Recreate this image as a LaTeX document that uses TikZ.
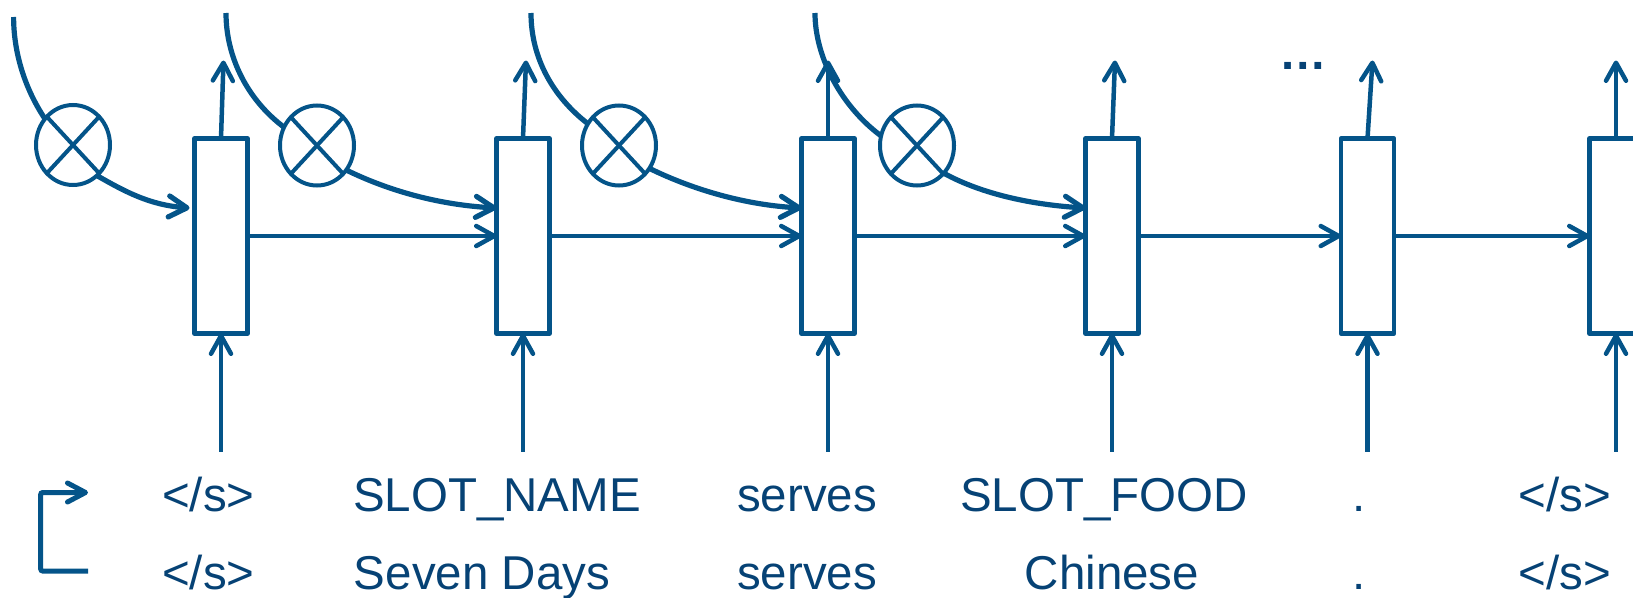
\documentclass[tikz,border=0pt]{standalone}
\usepackage{fontspec}
\setmainfont{Liberation Sans}
\usetikzlibrary{arrows.meta,calc,shapes.geometric}
\definecolor{lnc}{RGB}{4,84,137}
\definecolor{txc}{RGB}{6,66,117}
\begin{document}
\begin{tikzpicture}[x=1pt,y=-1pt,
  cell/.style={draw=lnc,line width=4.5pt,rectangle,minimum width=53pt,minimum height=195pt,inner sep=0pt,outer sep=0pt,line join=round},
  mult/.style={draw=lnc,line width=4pt,ellipse,minimum width=74pt,minimum height=80pt,inner sep=0pt,outer sep=0pt},
  link/.style={draw=lnc,line width=4.5pt,-{Straight Barb[length=18pt,width=20pt,round]}},
  flow/.style={draw=lnc,line width=5.2pt,-{Straight Barb[length=18pt,width=21pt,round]}},
  feed/.style={draw=lnc,line width=5.2pt},
  crossl/.style={draw=lnc,line width=4pt},
  word/.style={text=txc,font=\fontsize{47.5}{57}\selectfont,anchor=base,inner sep=0pt}]
\useasboundingbox (0,0) rectangle (1633,597);

% cells
\node[cell] (b1) at (221,236) {};
\node[cell] (b2) at (523,236) {};
\node[cell] (b3) at (828,236) {};
\node[cell] (b4) at (1112,236) {};
\node[cell] (b5) at (1367.5,236) {};
\node[cell] (b6) at (1616,236) {};

% multiplication circles
\node[mult] (c1) at (73,145) {};
\node[mult] (c2) at (317,145.5) {};
\node[mult] (c3) at (619,145.5) {};
\node[mult] (c4) at (917,145.5) {};
\foreach \c in {c1,c2,c3,c4}{
  \draw[crossl] (\c.north west) -- (\c.south east);
  \draw[crossl] (\c.north east) -- (\c.south west);
}

% curve starts
\coordinate (s1) at (13.6,17);
\coordinate (s2) at (226,13);
\coordinate (s3) at (531,13);
\coordinate (s4) at (815,13);

% curves into circles
\draw[feed] (s1) .. controls +(0,36) and +(-20,-30) .. (c1.137);
\draw[feed] (s2) .. controls +(0,45) and +(-36,-27) .. (c2.151);
\draw[feed] (s3) .. controls +(0,45) and +(-35,-27) .. (c3.145);
\draw[feed] (s4) .. controls +(0,46) and +(-38,-28) .. (c4.165);

% curves out of circles into cells
\draw[flow] (c1.-52) .. controls +(28,16) and +(-40,-3) .. ($(b1.west)+(-5,-28)$);
\draw[flow] (c2.-40) .. controls +(45,22) and +(-55,-3) .. ($(b2.west)+(0,-28)$);
\draw[flow] (c3.-37) .. controls +(45,22) and +(-55,-3) .. ($(b3.west)+(0,-28)$);
\draw[flow] (c4.-46) .. controls +(40,22) and +(-50,-3) .. ($(b4.west)+(0,-28)$);

% recurrent arrows
\draw[link] (b1.east) -- (b2.west);
\draw[link] (b2.east) -- (b3.west);
\draw[link] (b3.east) -- (b4.west);
\draw[link] (b4.east) -- (b5.west);
\draw[link] (b5.east) -- (b6.west);

% outputs
\coordinate (o1) at (223.5,60.5);
\coordinate (o2) at (526,60.5);
\coordinate (o3) at (828,60.5);
\coordinate (o4) at (1115,60.5);
\coordinate (o5) at (1372.5,60.5);
\coordinate (o6) at (1616,60.5);
\foreach \i in {1,...,6}{
  \draw[link] (b\i.north) -- (o\i);
}

% inputs
\foreach \i in {1,...,6}{
  \coordinate (i\i) at ($(b\i.south)+(0,118)$);
  \draw[link] (i\i) -- (b\i.south);
}

\node[text=txc,font=\fontsize{47.5}{57}\selectfont\bfseries,anchor=base,inner sep=0pt] (dots) at (1303,69.5) {…};

% words
\node[word] (t1) at (208.3,511) {</s>};
\node[word] (t2) at (497,511) {SLOT\_NAME};
\node[word] (t3) at (807,511) {serves};
\node[word] (t4) at (1104,511) {SLOT\_FOOD};
\node[word] (t5) at (1359,511) {.};
\node[word] (t6) at (1564.5,511) {</s>};
\node[word] (u1) at (208.3,589) {</s>};
\node[word] (u2) at (482,589) {Seven Days};
\node[word] (u3) at (807,589) {serves};
\node[word] (u4) at (1112,589) {Chinese};
\node[word] (u5) at (1359,589) {.};
\node[word] (u6) at (1564.5,589) {</s>};

% bracket arrow
\coordinate (k1) at (88,571);
\coordinate (k2) at (40.7,571);
\coordinate (k3) at (40.7,492.5);
\coordinate (k4) at (88,492.5);
\draw[draw=lnc,line width=5pt,rounded corners=2pt,-{Straight Barb[length=18pt,width=19pt,round]}] (k1) -- (k2) -- (k3) -- (k4);
\end{tikzpicture}
\end{document}
